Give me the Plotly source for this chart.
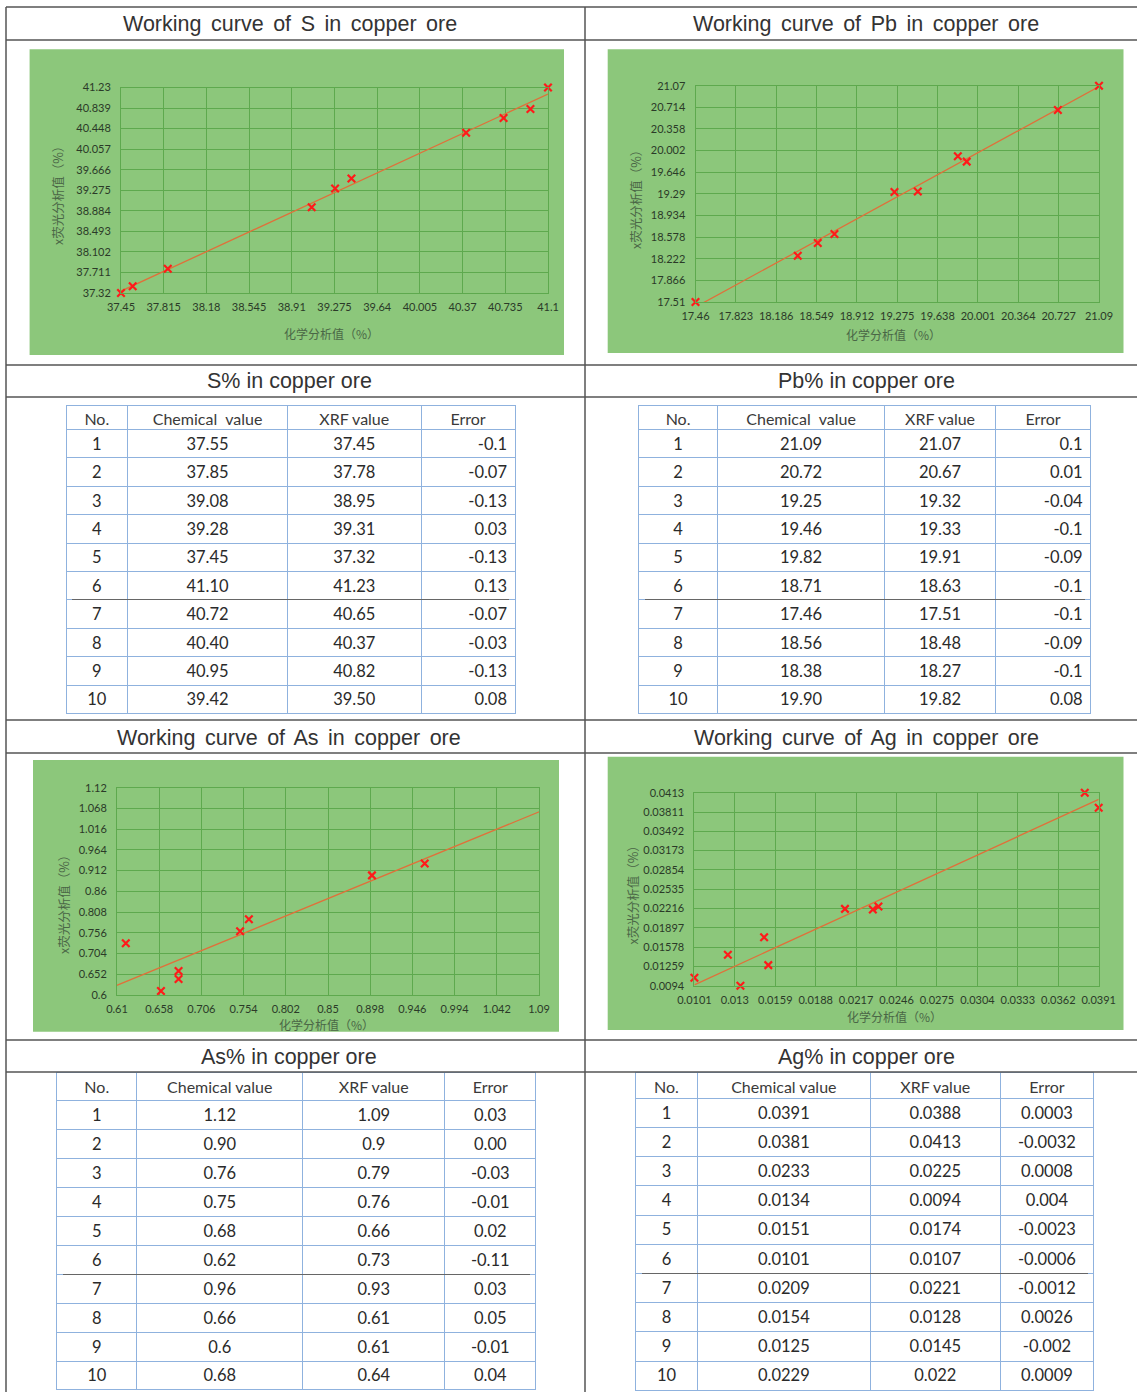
import numpy as np
import plotly.graph_objects as go

W, H = 1137, 1392

# ---------------- data ----------------
sample_no = ["1", "2", "3", "4", "5", "6", "7", "8", "9", "10"]

s_chem = ["37.55", "37.85", "39.08", "39.28", "37.45", "41.10", "40.72", "40.40", "40.95", "39.42"]
s_xrf = ["37.45", "37.78", "38.95", "39.31", "37.32", "41.23", "40.65", "40.37", "40.82", "39.50"]
s_err = ["-0.1", "-0.07", "-0.13", "0.03", "-0.13", "0.13", "-0.07", "-0.03", "-0.13", "0.08"]

pb_chem = ["21.09", "20.72", "19.25", "19.46", "19.82", "18.71", "17.46", "18.56", "18.38", "19.90"]
pb_xrf = ["21.07", "20.67", "19.32", "19.33", "19.91", "18.63", "17.51", "18.48", "18.27", "19.82"]
pb_err = ["0.1", "0.01", "-0.04", "-0.1", "-0.09", "-0.1", "-0.1", "-0.09", "-0.1", "0.08"]

as_chem = ["1.12", "0.90", "0.76", "0.75", "0.68", "0.62", "0.96", "0.66", "0.6", "0.68"]
as_xrf = ["1.09", "0.9", "0.79", "0.76", "0.66", "0.73", "0.93", "0.61", "0.61", "0.64"]
as_err = ["0.03", "0.00", "-0.03", "-0.01", "0.02", "-0.11", "0.03", "0.05", "-0.01", "0.04"]

ag_chem = ["0.0391", "0.0381", "0.0233", "0.0134", "0.0151", "0.0101", "0.0209", "0.0154", "0.0125", "0.0229"]
ag_xrf = ["0.0388", "0.0413", "0.0225", "0.0094", "0.0174", "0.0107", "0.0221", "0.0128", "0.0145", "0.022"]
ag_err = ["0.0003", "-0.0032", "0.0008", "0.004", "-0.0023", "-0.0006", "-0.0012", "0.0026", "-0.002", "0.0009"]

s_xticks = ["37.45", "37.815", "38.18", "38.545", "38.91", "39.275", "39.64", "40.005", "40.37", "40.735", "41.1"]
s_yticks = ["37.32", "37.711", "38.102", "38.493", "38.884", "39.275", "39.666", "40.057", "40.448", "40.839", "41.23"]
pb_xticks = ["17.46", "17.823", "18.186", "18.549", "18.912", "19.275", "19.638", "20.001", "20.364", "20.727", "21.09"]
pb_yticks = ["17.51", "17.866", "18.222", "18.578", "18.934", "19.29", "19.646", "20.002", "20.358", "20.714", "21.07"]
as_xticks = ["0.61", "0.658", "0.706", "0.754", "0.802", "0.85", "0.898", "0.946", "0.994", "1.042", "1.09"]
as_yticks = ["0.6", "0.652", "0.704", "0.756", "0.808", "0.86", "0.912", "0.964", "1.016", "1.068", "1.12"]
ag_xticks = ["0.0101", "0.013", "0.0159", "0.0188", "0.0217", "0.0246", "0.0275", "0.0304", "0.0333", "0.0362", "0.0391"]
ag_yticks = ["0.0094", "0.01259", "0.01578", "0.01897", "0.02216", "0.02535", "0.02854", "0.03173", "0.03492", "0.03811", "0.0413"]

table_header_sp = ["No.", "Chemical\u2002value", "XRF value", "Error"]
table_header = ["No.", "Chemical value", "XRF value", "Error"]

x_title = "化学分析值（%）"
y_title = "x荧光分析值（%）"

# ---------------- layout helpers ----------------
def fx(px):
    return px / W


def fy(py):
    return 1 - py / H


GREEN = "#8cc77b"
GRID = "#5ea94e"
TICKC = "#2b3a28"
TITLEC = "#4a6646"
RED = "#ff1a1a"
LINEC = "#e0703a"
BORDER = "#555555"
TBL_LINE = "#8fb2de"
SP = "\u2006 "  # slightly wider word gap used in the section headers

panels = [
    dict(name="S", chem=s_chem, xrf=s_xrf, xt=s_xticks, yt=s_yticks,
         green=(29.6, 49.3, 564, 355), px=(121, 548), py=(87.5, 293),
         xtitle=(331, 334), ytitle=(57, 193), clip=False),
    dict(name="Pb", chem=pb_chem, xrf=pb_xrf, xt=pb_xticks, yt=pb_yticks,
         green=(607.7, 49.3, 1123.5, 353), px=(695.5, 1099), py=(85.7, 302),
         xtitle=(893, 335), ytitle=(635, 197), clip=False),
    dict(name="As", chem=as_chem, xrf=as_xrf, xt=as_xticks, yt=as_yticks,
         green=(33, 760, 559, 1031.7), px=(117, 539), py=(787.7, 995),
         xtitle=(326, 1024.5), ytitle=(63, 902), clip=True),
    dict(name="Ag", chem=ag_chem, xrf=ag_xrf, xt=ag_xticks, yt=ag_yticks,
         green=(607.7, 756.7, 1123.5, 1030), px=(694.4, 1098.7), py=(792.7, 985.7),
         xtitle=(894, 1016.5), ytitle=(631.5, 892), clip=False),
]

tables = [
    dict(no=sample_no, chem=s_chem, xrf=s_xrf, err=s_err, hdr=table_header_sp,
         edges=(66, 127.6, 287.5, 421, 515), top=405, hh=24.5, rh=28.4, erralign="right"),
    dict(no=sample_no, chem=pb_chem, xrf=pb_xrf, err=pb_err, hdr=table_header_sp,
         edges=(638.6, 717.5, 884.8, 995.6, 1090.8), top=405, hh=24.5, rh=28.4, erralign="right"),
    dict(no=sample_no, chem=as_chem, xrf=as_xrf, err=as_err, hdr=table_header,
         edges=(56.6, 136.9, 302.6, 445, 535.7), top=1072.7, hh=28.3, rh=28.9, erralign="center"),
    dict(no=sample_no, chem=ag_chem, xrf=ag_xrf, err=ag_err, hdr=table_header,
         edges=(635.8, 697.2, 870.6, 1000.2, 1094), top=1072.7, hh=25.6, rh=29.2, erralign="center"),
]

section_titles = [
    (SP.join(["Working", "curve", "of", "S", "in", "copper", "ore"]), 290, 24),
    (SP.join(["Working", "curve", "of", "Pb", "in", "copper", "ore"]), 866, 24),
    ("S% in copper ore", 289, 381),
    ("Pb% in copper ore", 866, 381),
    (SP.join(["Working", "curve", "of", "As", "in", "copper", "ore"]), 289, 738),
    (SP.join(["Working", "curve", "of", "Ag", "in", "copper", "ore"]), 866, 738),
    ("As% in copper ore", 289, 1057),
    ("Ag% in copper ore", 866, 1057),
]

fig = go.Figure()
layout_axes = {}
shapes = []
annotations = []

for i, p in enumerate(panels, start=1):
    xs = np.array([float(v) for v in p["chem"]])
    ys = np.array([float(v) for v in p["xrf"]])
    xtv = [float(v) for v in p["xt"]]
    ytv = [float(v) for v in p["yt"]]
    slope, icpt = np.polyfit(xs, ys, 1)
    lx = np.array([xs.min(), xs.max()])
    ly = slope * lx + icpt
    xa = "x" if i == 1 else f"x{i}"
    ya = "y" if i == 1 else f"y{i}"
    fig.add_trace(go.Scatter(x=lx, y=ly, mode="lines", xaxis=xa, yaxis=ya,
                             line=dict(color=LINEC, width=1.3), hoverinfo="skip"))
    fig.add_trace(go.Scatter(x=xs, y=ys, mode="markers", xaxis=xa, yaxis=ya,
                             cliponaxis=p["clip"],
                             marker=dict(symbol="x-thin", size=7.5,
                                         line=dict(color=RED, width=2.2), color=RED)))
    axcommon = dict(showgrid=True, gridcolor=GRID, gridwidth=1, zeroline=False,
                    showline=True, mirror=True, linecolor=GRID, linewidth=1,
                    ticks="outside", tickcolor="rgba(0,0,0,0)", automargin=False,
                    tickfont=dict(family="Lato, Liberation Sans", size=11, color=TICKC),
                    fixedrange=True)
    layout_axes["xaxis" if i == 1 else f"xaxis{i}"] = dict(
        axcommon, domain=[fx(p["px"][0]), fx(p["px"][1])],
        range=[xtv[0], xtv[-1]], tickvals=xtv, ticktext=p["xt"], ticklen=4,
        anchor=ya)
    layout_axes["yaxis" if i == 1 else f"yaxis{i}"] = dict(
        axcommon, domain=[fy(p["py"][1]), fy(p["py"][0])],
        range=[ytv[0], ytv[-1]], tickvals=ytv, ticktext=p["yt"], ticklen=7,
        anchor=xa)
    g = p["green"]
    shapes.append(dict(type="rect", xref="paper", yref="paper", layer="below",
                       x0=fx(g[0]), x1=fx(g[2]), y0=fy(g[3]), y1=fy(g[1]),
                       fillcolor=GREEN, line=dict(width=0)))
    annotations.append(dict(text=x_title, xref="paper", yref="paper",
                            x=fx(p["xtitle"][0]), y=fy(p["xtitle"][1]),
                            showarrow=False, xanchor="center", yanchor="middle",
                            font=dict(family="Noto Sans CJK SC", size=12, color=TITLEC)))
    annotations.append(dict(text=y_title, xref="paper", yref="paper",
                            x=fx(p["ytitle"][0]), y=fy(p["ytitle"][1]), textangle=-90,
                            showarrow=False, xanchor="center", yanchor="middle",
                            font=dict(family="Noto Sans CJK SC", size=12.5, color=TITLEC)))

for t in tables:
    e = t["edges"]
    widths = [e[k + 1] - e[k] for k in range(4)]
    nrows = len(t["no"])
    bottom = t["top"] + t["hh"] + nrows * t["rh"] + 2
    fig.add_trace(go.Table(
        domain=dict(x=[fx(e[0]), fx(e[4])], y=[max(0, fy(bottom)), fy(t["top"])]),
        columnwidth=widths,
        header=dict(values=t["hdr"], height=t["hh"], align="center",
                    fill=dict(color="white"), line=dict(color=TBL_LINE, width=1),
                    font=dict(family="Lato, Liberation Sans", size=16, color="#3a3a3a")),
        cells=dict(values=[t["no"], t["chem"], t["xrf"], t["err"]], height=t["rh"],
                   align=["center", "center", "center", t["erralign"]],
                   fill=dict(color="white"), line=dict(color=TBL_LINE, width=1),
                   font=dict(family="Lato, Liberation Sans", size=16.5, color="#2a2a2a")),
    ))
    # darker separator between row 6 and row 7
    ysep = t["top"] + t["hh"] + 6 * t["rh"]
    annotations.append(dict(text=" ", xref="paper", yref="paper",
                            x=fx((e[0] + e[4]) / 2), y=fy(ysep), showarrow=False,
                            xanchor="center", yanchor="middle", width=e[4] - e[0] - 12, height=1,
                            bgcolor="#666666", borderpad=0, borderwidth=0,
                            font=dict(size=1)))

for txt, cx, cy in section_titles:
    annotations.append(dict(text=txt, xref="paper", yref="paper", x=fx(cx), y=fy(cy),
                            showarrow=False, xanchor="center", yanchor="middle",
                            font=dict(family="Liberation Sans", size=21.5, color="#333333")))

# frame lines
for yy in [7, 40, 365, 397, 720, 753, 1040, 1072]:
    shapes.append(dict(type="line", xref="paper", yref="paper", x0=fx(6), x1=1,
                       y0=fy(yy), y1=fy(yy), line=dict(color=BORDER, width=1.5)))
for xx in [6, 585]:
    shapes.append(dict(type="line", xref="paper", yref="paper", x0=fx(xx), x1=fx(xx),
                       y0=0, y1=fy(7), line=dict(color=BORDER, width=1.5)))

fig.update_layout(
    width=W, height=H, margin=dict(l=0, r=0, t=0, b=0, pad=0, autoexpand=False),
    paper_bgcolor="white", plot_bgcolor="rgba(0,0,0,0)",
    showlegend=False, shapes=shapes, annotations=annotations,
    **layout_axes,
)

fig.write_html("out.html", config={"displayModeBar": False},
               post_script="document.body.style.margin='0';")
